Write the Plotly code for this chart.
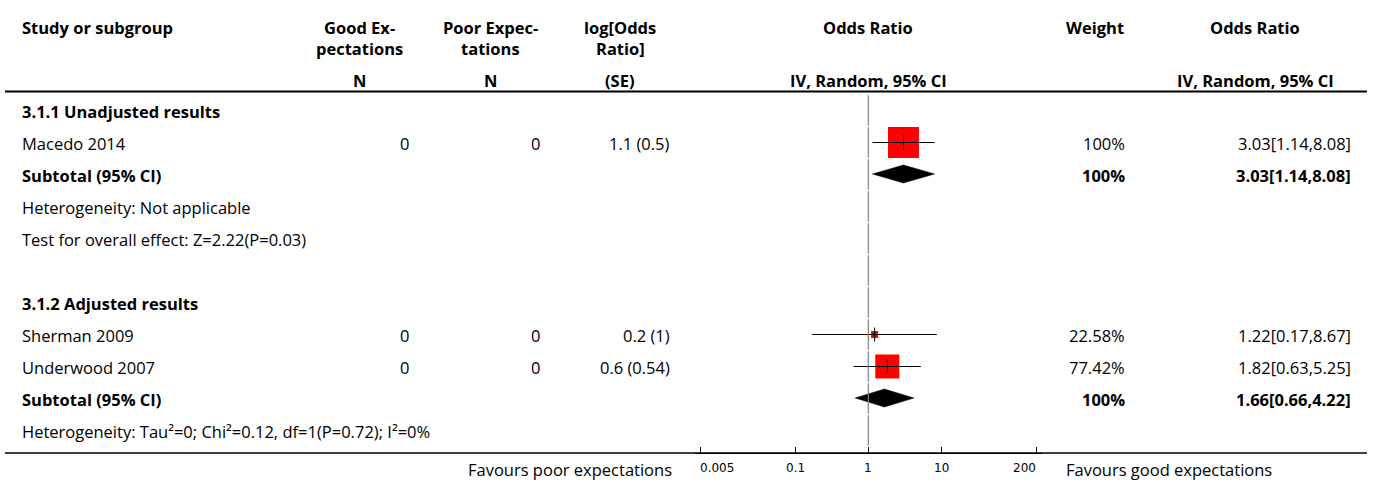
import math
import plotly.graph_objects as go

W, H = 1375, 482

# ---------------- data ----------------
group_titles = ["3.1.1 Unadjusted results", "3.1.2 Adjusted results"]
studies = ["Macedo 2014", "Sherman 2009", "Underwood 2007"]
study_group = [0, 1, 1]
good_n = [0, 0, 0]
poor_n = [0, 0, 0]
log_or = [1.1, 0.2, 0.6]
log_se = [0.5, 1, 0.54]
or_est = [3.03, 1.22, 1.82]
or_lo = [1.14, 0.17, 0.63]
or_hi = [8.08, 8.67, 5.25]
weight = [100, 22.58, 77.42]

sub_est = [3.03, 1.66]
sub_lo = [1.14, 0.66]
sub_hi = [8.08, 4.22]
sub_weight = [100, 100]

heterogeneity = [
    "Heterogeneity: Not applicable",
    "Heterogeneity: Tau²=0; Chi²=0.12, df=1(P=0.72); I²=0%",
]
overall_effect = ["Test for overall effect: Z=2.22(P=0.03)", None]

tick_vals = [0.005, 0.1, 1, 10, 200]
tick_text = ["0.005", "0.1", "1", "10", "200"]

favours_left = "Favours poor expectations"
favours_right = "Favours good expectations"

# ---------------- layout constants ----------------
FONT = "Open Sans"
FS = 16.5
ROW0, ROW_H = 111, 32
PX_PER_DECADE = 73.0
X_ONE = 868.3             # pixel column of OR = 1
AX_L, AX_R = 695, 1042    # extent of the forest axis
AX_Y = 453                # baseline of the forest axis
SQUARE_PER_PCT = 0.31     # square side (px) per % weight

COL_STUDY = 22
COL_GOOD = 409
COL_POOR = 540
COL_LOGOR = 670
COL_WEIGHT = 1125
COL_CI = 1351


def px(x):
    return x / W


# build the list of rows
rows = []
for g, title in enumerate(group_titles):
    if g > 0:
        rows.append(("blank", None))
    rows.append(("title", g))
    for i, sg in enumerate(study_group):
        if sg == g:
            rows.append(("study", i))
    rows.append(("subtotal", g))
    rows.append(("het", g))
    if overall_effect[g]:
        rows.append(("effect", g))

row_y = [ROW0 + ROW_H * k for k in range(len(rows))]

annotations = []


def txt(x, y, s, anchor="left", bold=False, size=FS, family=FONT):
    annotations.append(dict(
        x=px(x), y=y, xref="paper", yref="y", text=(f"<b>{s}</b>" if bold else s),
        showarrow=False, xanchor=anchor, yanchor="middle", align=anchor,
        font=dict(family=family, size=size, color="#000"),
        borderpad=0, borderwidth=0,
    ))


# column headers
txt(COL_STUDY, 27, "Study or subgroup", bold=True)
txt(359, 27, "Good Ex-", "center", True)
txt(359, 48, "pectations", "center", True)
txt(359, 80, "N", "center", True)
txt(491, 27, "Poor Expec-", "center", True)
txt(491, 48, "tations", "center", True)
txt(491, 80, "N", "center", True)
txt(620, 27, "log[Odds", "center", True)
txt(620, 48, "Ratio]", "center", True)
txt(620, 80, "(SE)", "center", True)
txt(868, 27, "Odds Ratio", "center", True)
txt(868, 80, "IV, Random, 95% CI", "center", True)
txt(1124, 27, "Weight", "right", True)
txt(1255, 27, "Odds Ratio", "center", True)
txt(1255, 80, "IV, Random, 95% CI", "center", True)


def ci_text(e, lo, hi):
    return f"{e:.2f}[{lo:.2f},{hi:.2f}]"


sq_x, sq_y, sq_s = [], [], []
ci_x, ci_y = [], []
traces = []

for (kind, idx), y in zip(rows, row_y):
    if kind == "title":
        txt(COL_STUDY, y, group_titles[idx], bold=True)
    elif kind == "study":
        txt(COL_STUDY, y, studies[idx])
        txt(COL_GOOD, y, str(good_n[idx]), "right")
        txt(COL_POOR, y, str(poor_n[idx]), "right")
        txt(COL_LOGOR, y, f"{log_or[idx]:g} ({log_se[idx]:g})", "right")
        txt(COL_WEIGHT, y, f"{weight[idx]:g}%", "right")
        txt(COL_CI, y, ci_text(or_est[idx], or_lo[idx], or_hi[idx]), "right")
        sq_x.append(or_est[idx])
        sq_y.append(y - 0.5)
        sq_s.append(weight[idx] * SQUARE_PER_PCT)
        ci_x += [or_lo[idx], or_hi[idx], None]
        ci_y += [y - 0.5, y - 0.5, None]
    elif kind == "subtotal":
        txt(COL_STUDY, y, "Subtotal (95% CI)", bold=True)
        txt(COL_WEIGHT, y, f"{sub_weight[idx]:g}%", "right", True)
        txt(COL_CI, y, ci_text(sub_est[idx], sub_lo[idx], sub_hi[idx]), "right", True)
        yc = y - 1
        traces.append(go.Scatter(
            x=[sub_lo[idx], sub_est[idx], sub_hi[idx], sub_est[idx], sub_lo[idx]],
            y=[yc, yc - 9, yc, yc + 9, yc],
            mode="lines", fill="toself", fillcolor="#000",
            line=dict(color="#000", width=0.5), hoverinfo="skip",
        ))
    elif kind == "het":
        txt(COL_STUDY, y, heterogeneity[idx])
    elif kind == "effect":
        txt(COL_STUDY, y, overall_effect[idx])

# favours labels under the axis
txt(672, 469, favours_left, "right")
txt(1066, 469, favours_right, "left")

# axis tick labels; the outermost ones are pulled inward
for k, (v, t) in enumerate(zip(tick_vals, tick_text)):
    anchor = "left" if k == 0 else ("right" if k == len(tick_vals) - 1 else "center")
    annotations.append(dict(
        x=math.log10(v), y=467.5, xref="x", yref="y", text=t,
        showarrow=False, xanchor=anchor, yanchor="middle", align=anchor,
        font=dict(family="DejaVu Sans", size=12, color="#000"),
        borderpad=0, borderwidth=0,
    ))

fig = go.Figure()

# null line at OR = 1, drawn row by row
shapes = []
top = row_y[0] - ROW_H / 2 - 0.5
for k in range(len(rows)):
    y0 = top + ROW_H * k + 0.75
    y1 = top + ROW_H * (k + 1) - 0.75
    shapes.append(dict(type="line", xref="x", yref="y", x0=1, x1=1, y0=y0, y1=y1,
                       line=dict(color="#808080", width=1.2)))

# horizontal rules
shapes.append(dict(type="line", xref="paper", yref="y", x0=px(5), x1=px(1367),
                   y0=91.5, y1=91.5, line=dict(color="#000", width=2)))
shapes.append(dict(type="line", xref="paper", yref="y", x0=px(5), x1=px(1367),
                   y0=AX_Y, y1=AX_Y, line=dict(color="#000", width=1.3)))

# study squares
fig.add_trace(go.Scatter(
    x=sq_x, y=sq_y, mode="markers", opacity=1,
    marker=dict(symbol="square", size=sq_s, color="#ff0000", opacity=1,
                line=dict(width=0)),
    hoverinfo="skip",
))
# confidence intervals
fig.add_trace(go.Scatter(
    x=ci_x, y=ci_y, mode="lines", line=dict(color="#000", width=1),
    hoverinfo="skip",
))
# point estimate ticks
fig.add_trace(go.Scatter(
    x=sq_x, y=sq_y, mode="markers",
    marker=dict(symbol="line-ns", size=10, opacity=1,
                line=dict(color="#000", width=1)),
    hoverinfo="skip",
))
for t in traces:
    fig.add_trace(t)

range_lo = -(X_ONE - AX_L) / PX_PER_DECADE
range_hi = (AX_R - X_ONE) / PX_PER_DECADE

fig.update_layout(
    template="none",
    width=W, height=H, autosize=False,
    margin=dict(l=0, r=0, t=0, b=0, pad=0, autoexpand=False),
    paper_bgcolor="#fff", plot_bgcolor="rgba(0,0,0,0)",
    showlegend=False,
    shapes=shapes, annotations=annotations,
    xaxis=dict(
        type="log", domain=[px(AX_L), px(AX_R)], range=[range_lo, range_hi],
        anchor="free", position=(H - AX_Y) / H, automargin=False,
        tickvals=tick_vals, showticklabels=False,
        ticks="inside", ticklen=6, tickwidth=1, tickcolor="#000",
        showline=True, linecolor="#000", linewidth=1,
        showgrid=False, zeroline=False, fixedrange=True,
    ),
    yaxis=dict(
        range=[H, 0], domain=[0, 1], visible=False, fixedrange=True,
        showgrid=False, zeroline=False, automargin=False,
    ),
)

fig.write_html(
    "out.html",
    config={"displayModeBar": False, "responsive": False},
    post_script="document.body.style.margin='0';document.body.style.overflow='hidden';",
)
